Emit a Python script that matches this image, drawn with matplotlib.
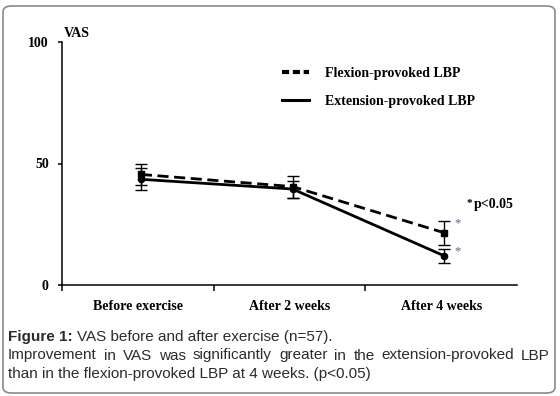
import matplotlib
matplotlib.use("Agg")
import matplotlib.pyplot as plt
from matplotlib.patches import FancyBboxPatch
from matplotlib.lines import Line2D
import numpy as np

categories = ["Before exercise", "After 2 weeks", "After 4 weeks"]
flexion = [45.5, 40.5, 21.5]
flexion_err = [4.5, 4.5, 5.0]
extension = [43.5, 39.5, 12.0]
extension_err = [4.5, 3.5, 3.0]
yticks = [0, 50, 100]

serif = "Liberation Serif"
sans = "Liberation Sans"
cap_color = "#2b2b2b"
cap_size = 11

fig = plt.figure(figsize=(5.6, 3.96), dpi=100)
W, H = 560, 396

# outer rounded frame
frame = FancyBboxPatch((3 / W, 3 / H), 552 / W, 387 / H,
                       boxstyle="round,pad=0,rounding_size=0.015",
                       transform=fig.transFigure, fill=False,
                       edgecolor="#8a8a8a", linewidth=1.2)
fig.patches.append(frame)

ax = fig.add_axes([62 / W, 1 - 285 / H, 455 / W, 243 / H])
x = np.arange(len(categories)) + 0.02

ax.errorbar(x, flexion, yerr=flexion_err, color="black", lw=2.0,
            dashes=(4, 2), marker="s", ms=5, elinewidth=1.0, capsize=4,
            capthick=1.0, label="Flexion-provoked LBP")
ax.errorbar(x, extension, yerr=extension_err, color="black", lw=2.0,
            marker="o", ms=4.5, elinewidth=1.0, capsize=4, capthick=1.0,
            label="Extension-provoked LBP")

ax.set_xlim(-0.5, 2.5)
ax.set_ylim(0, 100)
ax.set_yticks(yticks)
ax.set_yticklabels([str(v) for v in yticks], fontfamily=serif,
                   fontweight="bold", fontsize=10)
ax.set_xticks(np.arange(len(categories)))
ax.set_xticklabels(categories, fontfamily=serif, fontweight="bold",
                   fontsize=10)
ax.set_xticks([-0.5, 0.5, 1.5], minor=True)
ax.tick_params(axis="x", which="major", length=0, pad=11)
ax.tick_params(axis="x", which="minor", length=4, width=1.1, direction="out")
ax.tick_params(axis="y", length=3, width=1.1, direction="out", pad=6.5)
for s in ["top", "right"]:
    ax.spines[s].set_visible(False)
for s in ["left", "bottom"]:
    ax.spines[s].set_linewidth(1.1)

ax.text(-0.49, 101, "VAS", fontfamily=serif, fontweight="bold", fontsize=10,
        ha="left", va="bottom")

# significance marks
ast_color = "#5a5a85"
ax.annotate("*", (x[2], flexion[2] + flexion_err[2]), xytext=(7, -2),
            textcoords="offset points", color=ast_color, fontsize=9,
            ha="left", va="center", fontfamily=serif)
ax.annotate("*", (x[2], extension[2] + extension_err[2]), xytext=(7, -2),
            textcoords="offset points", color=ast_color, fontsize=9,
            ha="left", va="center", fontfamily=serif)
ax.text(2.17, 33.5, "*", fontfamily=serif, fontweight="bold", fontsize=8,
        ha="left", va="center")
ax.text(2.215, 33.0, "p<0.05", fontfamily=serif, fontweight="bold",
        fontsize=10, ha="left", va="center")

handles = [Line2D([], [], color="black", lw=3, dashes=(1.7, 0.9)),
           Line2D([], [], color="black", lw=2.2)]
ax.legend(handles, ["Flexion-provoked LBP", "Extension-provoked LBP"],
          loc="upper left", bbox_to_anchor=(0.4835, 0.898), frameon=False,
          borderpad=0, borderaxespad=0, handlelength=1.95,
          handletextpad=1.15, labelspacing=1.1,
          prop={"family": serif, "weight": "bold", "size": 10})

# caption
fig.text(8 / W, 1 - 341 / H, "Figure 1:", fontfamily=sans,
         fontweight="bold", fontsize=cap_size, color=cap_color,
         va="baseline")
fig.canvas.draw()
r = fig.canvas.get_renderer()
bb = fig.texts[-1].get_window_extent(r)
fig.text(bb.x1 / W + 4 / W, 1 - 341 / H,
         "VAS before and after exercise (n=57).",
         fontfamily=sans, fontsize=cap_size, color=cap_color, va="baseline")


def justified(line, y, x0, x1):
    words = line.split()
    objs = [fig.text(0, 1 - y / H, w, fontfamily=sans, fontsize=cap_size,
                     color=cap_color, va="baseline")
            for w in words]
    fig.canvas.draw()
    widths = [o.get_window_extent(r).width for o in objs]
    gap = (x1 - x0 - sum(widths)) / (len(words) - 1)
    pos = x0
    for o, w in zip(objs, widths):
        o.set_x(pos / W)
        pos += w + gap


justified("Improvement in VAS was significantly greater in the "
          "extension-provoked LBP", 359.5, 8, 550)
fig.text(8 / W, 1 - 378 / H,
         "than in the flexion-provoked LBP at 4 weeks. (p<0.05)",
         fontfamily=sans, fontsize=cap_size, color=cap_color, va="baseline")

fig.savefig("out.png", dpi=100)
